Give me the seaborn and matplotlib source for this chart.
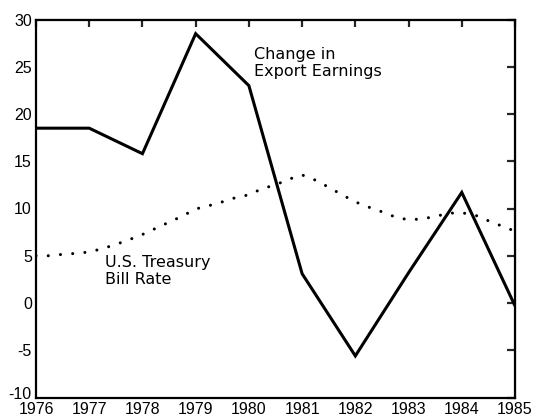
import matplotlib
matplotlib.use("Agg")
import matplotlib.pyplot as plt
from matplotlib.transforms import ScaledTranslation
import seaborn as sns
import pandas as pd

# ---- data ----
years = [1976, 1977, 1978, 1979, 1980, 1981, 1982, 1983, 1984, 1985]
export_change = [18.5, 18.5, 15.8, 28.5, 23.0, 3.1, -5.6, 3.2, 11.7, -0.3]

bill_quarters = [1976.00, 1976.25, 1976.50, 1976.75, 1977.00, 1977.25, 1977.50, 1977.75,
                 1978.00, 1978.25, 1978.50, 1978.75, 1979.00, 1979.25, 1979.50, 1979.75,
                 1980.00, 1980.25, 1980.50, 1980.75, 1981.00, 1981.25, 1981.50, 1981.75,
                 1982.00, 1982.25, 1982.50, 1982.75, 1983.00, 1983.25, 1983.50, 1983.75,
                 1984.00, 1984.25, 1984.50, 1984.75, 1985.00]
bill_rate = [5.0, 5.0, 5.15, 5.25, 5.4, 5.75, 6.2, 6.7,
             7.25, 7.9, 8.55, 9.2, 9.95, 10.3, 10.7, 11.15,
             11.45, 12.1, 12.5, 13.1, 13.55, 13.0, 12.25, 11.45,
             10.7, 10.15, 9.65, 9.1, 8.8, 8.9, 9.15, 9.5,
             9.55, 9.3, 8.7, 8.15, 7.6]

y_ticks = [-10, -5, 0, 5, 10, 15, 20, 25, 30]
label_export = "Change in\nExport Earnings"
label_bill = "U.S. Treasury\nBill Rate"

sns.set_style("white")
plt.rcParams["font.family"] = ["DejaVu Sans"]
plt.rcParams["axes.unicode_minus"] = False
plt.rcParams["text.color"] = "black"

df_exp = pd.DataFrame({"year": years, "value": export_change})
df_bill = pd.DataFrame({"year": bill_quarters, "value": bill_rate})

fig = plt.figure(figsize=(5.36, 4.18), dpi=100)
ax = fig.add_axes([36 / 536, 20.5 / 418, 479 / 536, 378 / 418])

sns.lineplot(data=df_exp, x="year", y="value", ax=ax, color="black",
             linewidth=2.2, solid_joinstyle="miter")
sns.lineplot(data=df_bill, x="year", y="value", ax=ax, color="black",
             linewidth=2.2, linestyle=(0, (0.01, 4.0)), dash_capstyle="round")

ax.set_xlim(1976, 1985)
ax.set_ylim(-10, 30)
ax.set_xticks(years)
ax.set_yticks(y_ticks)
ax.set_xlabel("")
ax.set_ylabel("")

for s in ax.spines.values():
    s.set_visible(True)
    s.set_linewidth(1.6)
    s.set_color("black")

ax.tick_params(axis="y", direction="in", length=13.5, width=1.6, pad=3,
               labelsize=11.5, colors="black")
ax.tick_params(axis="x", direction="in", length=12, width=1.6, pad=3.5,
               labelsize=11.5, colors="black")
for lab in ax.get_xticklabels() + ax.get_yticklabels():
    lab.set_family(["Liberation Sans", "DejaVu Sans"])

# nudge the lowest y label up slightly so it clears the first year label
low = ax.yaxis.get_major_ticks()[0].label1
low.set_transform(low.get_transform() + ScaledTranslation(0, 3 / 72, fig.dpi_scale_trans))

top = ax.secondary_xaxis("top")
top.set_xticks(years)
top.tick_params(direction="in", length=6, width=1.6, labeltop=False)
right = ax.secondary_yaxis("right")
right.set_yticks(y_ticks)
right.tick_params(direction="in", length=6, width=1.6, labelright=False)

ax.text(1980.1, 27.1, label_export, fontsize=11.5, va="top", ha="left",
        linespacing=1.2, color="black")
ax.text(1977.3, 5.1, label_bill, fontsize=11.5, va="top", ha="left",
        linespacing=1.2, color="black")

fig.savefig("out.png", dpi=100)
